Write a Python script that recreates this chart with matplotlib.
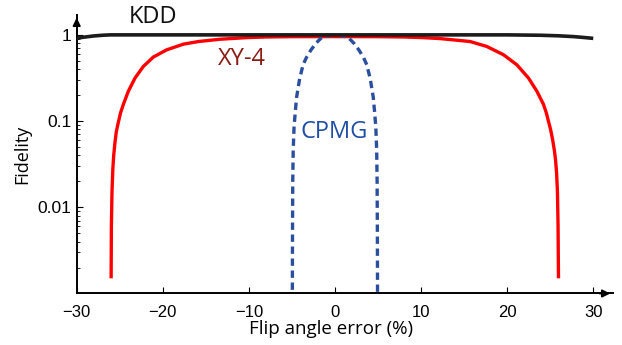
import numpy as np
import matplotlib
matplotlib.use('Agg')
import matplotlib.pyplot as plt

# ---------------------------------------------------------------------------
# Data (flip angle error in %, fidelity)
# ---------------------------------------------------------------------------
kdd_x = [-29.9, -29.0, -28.1, -27.0, -26.1, -20.0, -10.0, 0.0, 10.0, 20.0, 23.9, 26.0, 27.7, 28.8, 29.8]
kdd_f = [0.92, 0.945, 0.97, 0.99, 1.0, 1.0, 1.0, 1.0, 1.0, 1.0, 0.99, 0.975, 0.955, 0.935, 0.915]

xy4_x = [-26.0, -25.97, -25.9, -25.8, -25.7, -25.55, -25.4, -25.17, -24.9, -24.58, -24.0,
         -23.22, -22.26, -21.1, -19.54, -17.61, -15.87, -13.34, -10.2, -8.0, -5.0, 0.0,
         5.0, 8.0, 10.2, 12.25, 14.0, 15.71, 17.65, 19.58, 21.13, 22.48, 23.46, 24.23,
         24.55, 24.8, 25.05, 25.3, 25.5, 25.62, 25.75, 25.85, 25.92, 25.97]
xy4_f = [0.0015, 0.006, 0.015, 0.028, 0.040, 0.057, 0.075, 0.096, 0.125, 0.156, 0.222,
         0.316, 0.43, 0.553, 0.671, 0.78, 0.837, 0.89, 0.93, 0.945, 0.953, 0.955,
         0.953, 0.945, 0.93, 0.905, 0.87, 0.837, 0.733, 0.588, 0.45, 0.316, 0.222, 0.156,
         0.125, 0.1, 0.08, 0.06, 0.045, 0.036, 0.025, 0.015, 0.006, 0.0015]

cpmg_x = [-4.95, -4.93, -4.9, -4.85, -4.75, -4.6, -4.45, -4.1, -3.7, -3.3, -2.8, -2.2, -1.6,
          -1.0, -0.5, 0.0, 0.5, 1.0, 1.6, 2.2, 2.8, 3.3, 3.7, 4.1, 4.45, 4.6, 4.75, 4.85,
          4.9, 4.93, 4.95]
cpmg_f = [0.0008, 0.005, 0.02, 0.045, 0.085, 0.13, 0.19, 0.31, 0.45, 0.55, 0.665, 0.80, 0.92,
          0.97, 0.99, 1.0, 0.99, 0.97, 0.92, 0.80, 0.665, 0.55, 0.45, 0.31, 0.19, 0.13, 0.085, 0.045,
          0.02, 0.005, 0.0008]

x_ticks = [-30, -20, -10, 0, 10, 20, 30]
x_ticklabels = ['\u221230', '\u221220', '\u221210', '0', '10', '20', '30']
y_ticks = [1, 0.1, 0.01]
y_ticklabels = ['1', '0.1', '0.01']

LABEL_FONT = ['Open Sans', 'DejaVu Sans']
TICK_FONT = ['Liberation Sans', 'DejaVu Sans']

fig = plt.figure(figsize=(6.22, 3.45), dpi=100)
ax = fig.add_axes([0.1233, 0.1493, 0.8622, 0.8072])

ax.plot(xy4_x, xy4_f, color='#ff0000', lw=2.4, solid_capstyle='butt', zorder=2)
ax.plot(cpmg_x, cpmg_f, color='#2a4f9e', lw=2.4, dashes=(2.2, 1.4), zorder=3)
ax.plot(kdd_x, kdd_f, color='#1c1c1c', lw=2.6, zorder=4)

ax.set_yscale('log')
ax.set_xlim(-30, 32.3)
ax.set_ylim(0.001, 1.7)

ax.set_xticks(x_ticks)
ax.set_xticklabels(x_ticklabels, fontsize=12, family=TICK_FONT)
ax.set_yticks(y_ticks)
ax.set_yticklabels(y_ticklabels, fontsize=12.5, family=TICK_FONT)
ax.tick_params(axis='x', direction='in', length=4, width=0.8, pad=8)
ax.tick_params(axis='y', which='major', direction='in', length=4.5, width=0.8, pad=4)
ax.tick_params(axis='y', which='minor', direction='in', length=2.5, width=0.6)
ax.yaxis.set_minor_formatter(matplotlib.ticker.NullFormatter())

for side in ['top', 'right']:
    ax.spines[side].set_visible(False)
for side in ['left', 'bottom']:
    ax.spines[side].set_linewidth(1.4)

# arrow heads at the ends of the axes
ax.annotate('', xy=(1.0, 0), xycoords='axes fraction', xytext=(0.97, 0),
            arrowprops=dict(arrowstyle='-|>', color='k', lw=1.4, mutation_scale=11))
ax.annotate('', xy=(0, 1.0), xycoords='axes fraction', xytext=(0, 0.95),
            arrowprops=dict(arrowstyle='-|>', color='k', lw=1.4, mutation_scale=11))

ax.set_xlabel('Flip angle error (%)', fontsize=13.5, family=LABEL_FONT)
ax.xaxis.set_label_coords(0.474, -0.095)
ax.set_ylabel('Fidelity', fontsize=13, family=LABEL_FONT, labelpad=4)

ax.text(-21.1, 1.6, 'KDD', fontsize=17, family=LABEL_FONT, color='#111111',
        ha='center', va='center', clip_on=False)
ax.text(-10.8, 0.52, 'XY-4', fontsize=17, family=LABEL_FONT, color='#8b1c14',
        ha='center', va='center')
ax.text(-0.1, 0.074, 'CPMG', fontsize=17, family=LABEL_FONT, color='#1f4fa6',
        ha='center', va='center')

fig.savefig('out.png', dpi=100)
plt.close(fig)
